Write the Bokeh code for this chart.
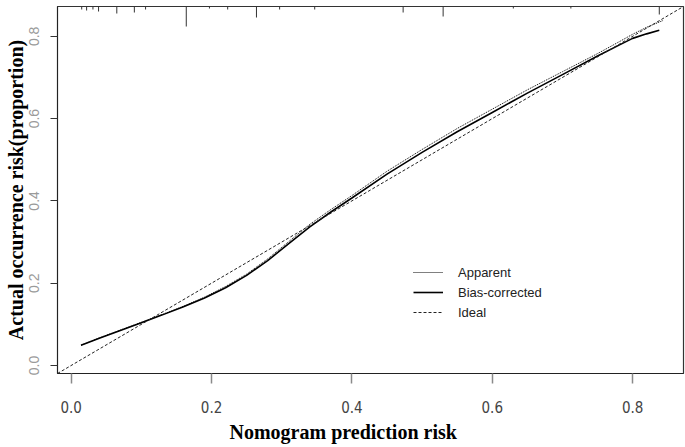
from bokeh.plotting import figure
from bokeh.models import Range1d, Legend, LegendItem, Title, FixedTicker, PrintfTickFormatter
from bokeh.embed import file_html
from bokeh.resources import INLINE

# ---- data ----
axis_lim = [-0.0195, 0.8725]
ideal = [-0.0195, 0.8725]

bias_x = [0.014, 0.04, 0.07, 0.10, 0.13, 0.16, 0.19, 0.22, 0.25, 0.28, 0.31, 0.34, 0.37,
          0.40, 0.45, 0.50, 0.55, 0.60, 0.65, 0.70, 0.75, 0.78, 0.80, 0.82, 0.838]
bias_y = [0.049, 0.066, 0.085, 0.104, 0.123, 0.143, 0.164, 0.189, 0.219, 0.255, 0.296, 0.337, 0.373,
          0.407, 0.465, 0.518, 0.568, 0.615, 0.662, 0.707, 0.752, 0.778, 0.795, 0.806, 0.815]

app_x = [0.014, 0.04, 0.07, 0.10, 0.13, 0.16, 0.19, 0.22, 0.25, 0.28, 0.31, 0.34, 0.37,
         0.40, 0.45, 0.50, 0.55, 0.60, 0.65, 0.70, 0.75, 0.78, 0.80, 0.82, 0.844]
app_y = [0.049, 0.067, 0.086, 0.105, 0.124, 0.144, 0.166, 0.192, 0.222, 0.259, 0.301, 0.343, 0.379,
         0.413, 0.472, 0.525, 0.576, 0.623, 0.670, 0.714, 0.758, 0.786, 0.805, 0.822, 0.839]

# distribution of predicted risk (rug spikes at top)
rug_x = [0.015, 0.022, 0.031, 0.039, 0.065, 0.090, 0.106, 0.164, 0.197, 0.223, 0.264, 0.297,
         0.347, 0.473, 0.530, 0.630, 0.712, 0.838]
rug_n = [3, 4, 3, 5, 7, 6, 3, 20, 2, 3, 11, 3, 3, 6, 10, 2, 2, 8]

x_ticks = [0.0, 0.2, 0.4, 0.6, 0.8]
y_ticks = [0.0, 0.2, 0.4, 0.6, 0.8]

x_title = "Nomogram prediction risk"
y_title = "Actual occurrence risk(proportion)"
legend_labels = ["Apparent", "Bias-corrected", "Ideal"]

NARROW = "'Liberation Sans Narrow', 'DejaVu Sans Condensed', 'Liberation Sans', Arial, sans-serif"
SANS = "'Liberation Sans', Arial, sans-serif"
SERIF = "'Liberation Serif', 'Times New Roman', serif"

FRAME_H = 367

p = figure(width=685, height=447, output_backend="svg", toolbar_location=None,
           x_range=Range1d(*axis_lim), y_range=Range1d(*axis_lim),
           min_border_left=57, min_border_right=2, min_border_top=6, min_border_bottom=74)
p.grid.visible = False
p.outline_line_color = "#333333"
p.outline_line_width = 1.2
p.background_fill_color = "white"
p.border_fill_color = "white"

# x axis
xa = p.xaxis[0]
xa.ticker = FixedTicker(ticks=x_ticks)
xa.formatter = PrintfTickFormatter(format="%.1f")
xa.major_tick_out = 10
xa.major_tick_in = 0
xa.minor_tick_out = 0
xa.minor_tick_in = 0
xa.major_tick_line_color = "#8a8a8a"
xa.major_tick_line_width = 1.5
xa.axis_line_color = "#222222"
xa.major_label_text_font = NARROW
xa.major_label_text_font_size = "15px"
xa.major_label_text_color = "#444444"
xa.major_label_standoff = 17

# y axis
ya = p.yaxis[0]
ya.ticker = FixedTicker(ticks=y_ticks)
ya.formatter = PrintfTickFormatter(format="%.1f")
ya.major_tick_out = 7
ya.major_tick_in = 0
ya.minor_tick_out = 0
ya.minor_tick_in = 0
ya.major_tick_line_color = "#333333"
ya.axis_line_color = "#222222"
ya.major_label_orientation = "parallel"
ya.major_label_text_font = SANS
ya.major_label_text_font_size = "14px"
ya.major_label_text_color = "#9a9a9a"
ya.major_label_standoff = 11
ya.axis_label = y_title
ya.axis_label_text_font = SERIF
ya.axis_label_text_font_size = "20px"
ya.axis_label_text_font_style = "bold"
ya.axis_label_text_color = "black"
ya.axis_label_standoff = 0

# x-axis title as a panel below the axis, shifted left like the reference
p.add_layout(Title(text=x_title, align="left", offset=172,
                   text_font=SERIF, text_font_size="20px", text_font_style="bold",
                   text_color="black", standoff=7), "below")

# rug spikes at top of plot
unit_per_px = (axis_lim[1] - axis_lim[0]) / FRAME_H
rug_y0 = [axis_lim[1]] * len(rug_x)
rug_y1 = [axis_lim[1] - n * unit_per_px for n in rug_n]
p.segment(x0=rug_x, y0=rug_y0, x1=rug_x, y1=rug_y1, line_color="#333333", line_width=1)

# lines
r_app = p.line(app_x, app_y, line_color="black", line_width=1, line_dash="1 1")
r_bias = p.line(bias_x, bias_y, line_color="black", line_width=1.6)
r_ideal = p.line(ideal, ideal, line_color="#222222", line_width=1, line_dash="3 2")

legend = Legend(items=[LegendItem(label=legend_labels[0], renderers=[r_app]),
                       LegendItem(label=legend_labels[1], renderers=[r_bias]),
                       LegendItem(label=legend_labels[2], renderers=[r_ideal])],
                location=(356, 51), orientation="vertical",
                glyph_width=30, glyph_height=20, label_height=20, spacing=0,
                padding=0, margin=0, label_standoff=15,
                label_text_font=SANS, label_text_font_size="13px",
                label_text_color="#222222",
                border_line_color=None, background_fill_alpha=0)
p.add_layout(legend)

open("out.html", "w").write(file_html(p, INLINE))
